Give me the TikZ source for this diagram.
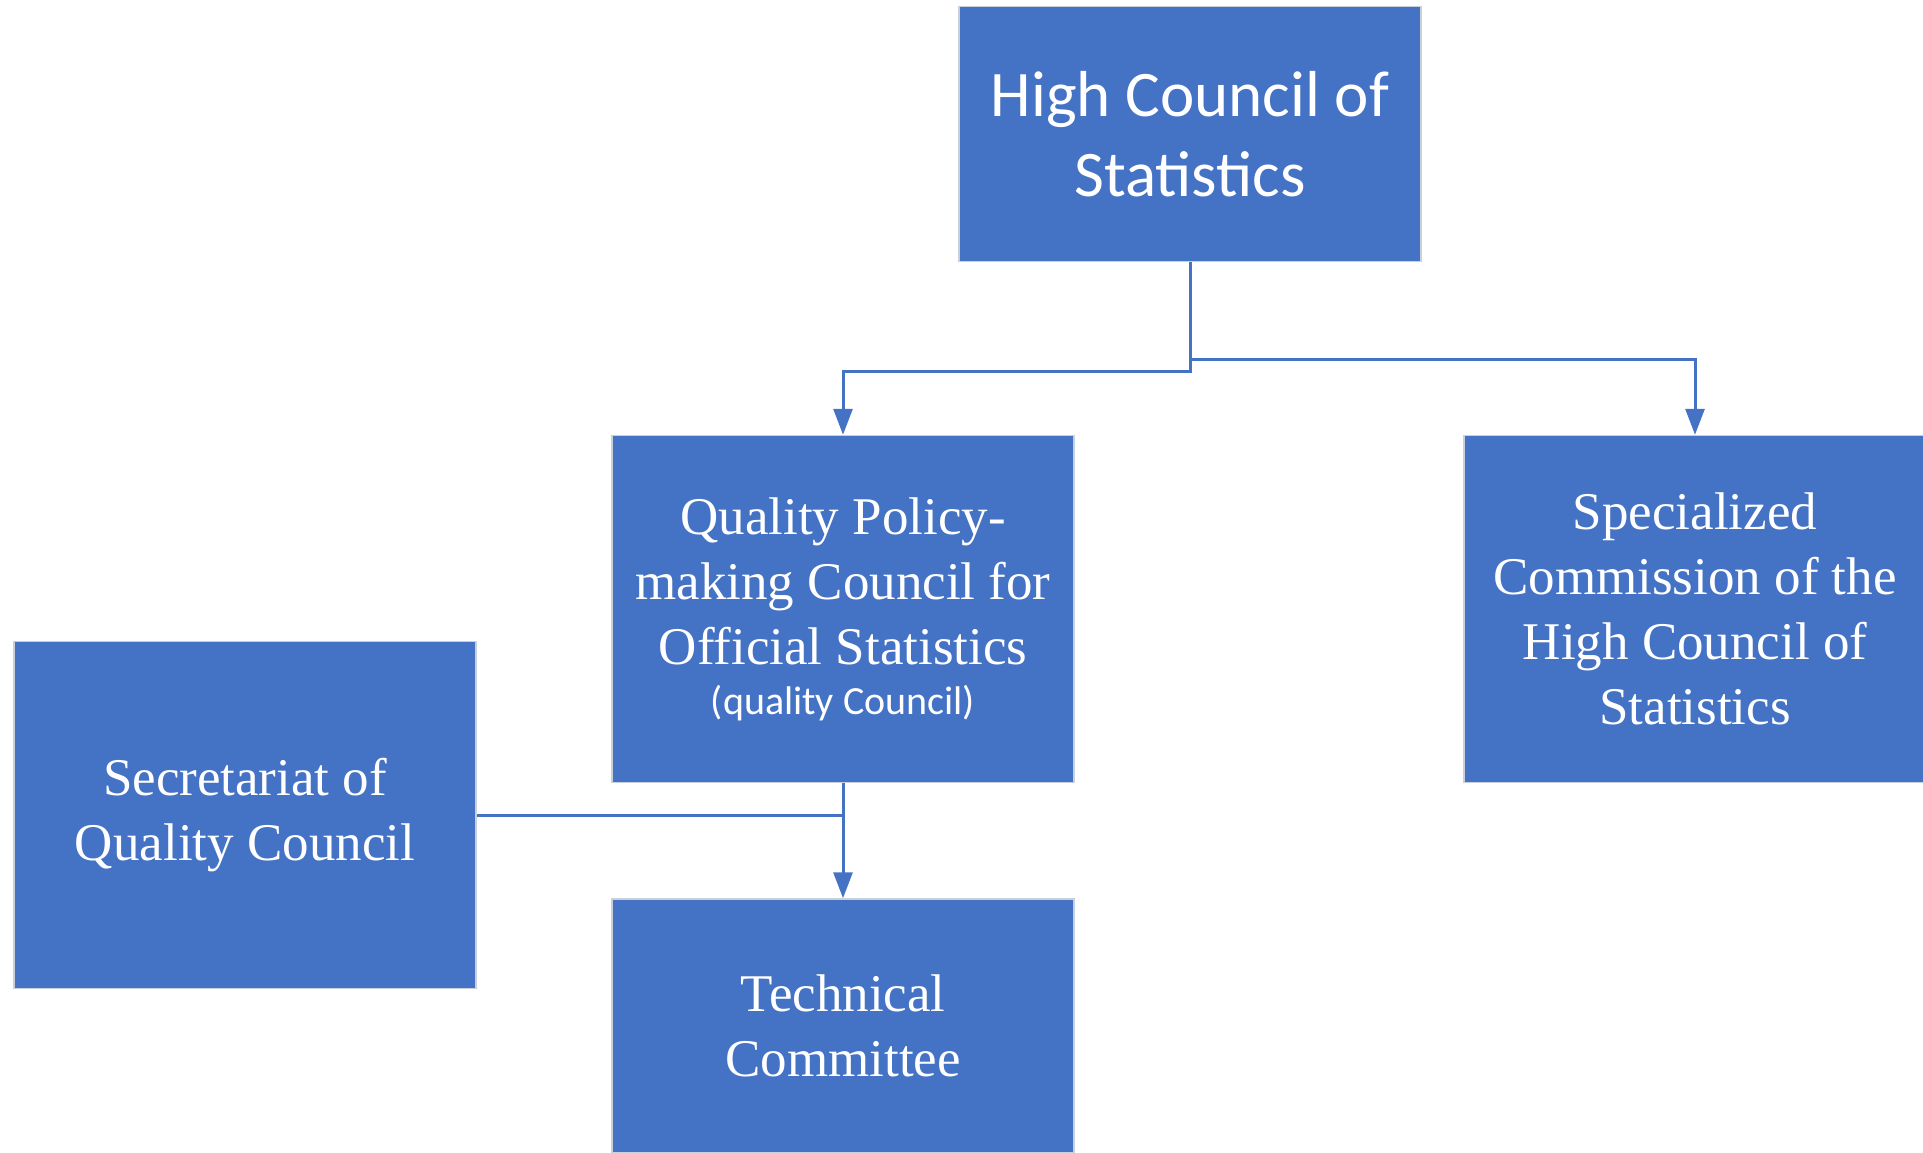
\documentclass[tikz,border=0pt]{standalone}
\usepackage{fontspec}
\setmainfont{Liberation Serif}
\newfontfamily\calibrifont{Carlito}
\usepackage{tikz}
\usetikzlibrary{positioning}
\usetikzlibrary{arrows.meta}
\definecolor{officeblue}{HTML}{4472C4}
\definecolor{boxedge}{HTML}{C9D0DB}

\tikzset{
orgbox/.style={fill=officeblue, draw=boxedge, line width=1.5pt, text=white, align=center, inner sep=0pt, minimum width=462pt, minimum height=347pt, font=\fontsize{53}{65}\selectfont},
flow/.style={officeblue, line width=3pt, -{Triangle[length=26pt,width=19pt]}},
joint/.style={officeblue, line width=3pt},
}

\begin{document}
\begin{tikzpicture}[x=1pt,y=-1pt]

\useasboundingbox (0,0) rectangle (1923,1153);

\node[orgbox, minimum height=255pt, font=\calibrifont\fontsize{65}{80}\selectfont] (hcs) at (1190,134) {High Council of\\Statistics};

\node[orgbox] (qpc) at (843,609) {Quality Policy-\\making Council for\\Official Statistics\\[-15pt]{\calibrifont\fontsize{40}{50}\selectfont(quality Council)}};

\node[orgbox] (spc) at (1695,609) {Specialized\\Commission of the\\High Council of\\Statistics};

\node[orgbox] (sqc) at (245,815) {Secretariat of\\Quality Council};

\node[orgbox, minimum height=254pt] (tcm) at (843,1026) {Technical\\Committee};

\coordinate (splitL) at (843,371);
\coordinate (splitR) at (1695,359);

\draw[flow] (hcs.south) |- (splitL) -- (qpc.north);
\draw[flow] (hcs.south |- splitR) -| (spc.north);

\draw[flow] (qpc.south) -- (tcm.north);
\draw[joint] (sqc.east) -- (sqc.east -| qpc.south);

\end{tikzpicture}
\end{document}
